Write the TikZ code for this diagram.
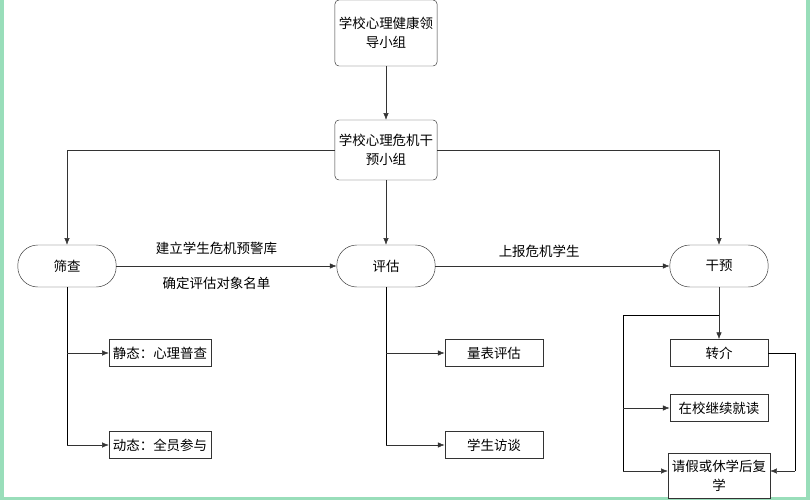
\documentclass[tikz,border=0pt]{standalone}
\usepackage{fontspec}
\setmainfont{Noto Sans CJK SC}
\usetikzlibrary{arrows.meta}
\tikzset{
  box/.style={draw=black!80,fill=white,minimum width=2.95cm,minimum height=0.82cm,align=center,font=\fontsize{11.5}{16}\selectfont},
  pill/.style={box,rounded corners=0.6cm,minimum height=1.26cm},
  head/.style={box,rounded corners=0.12cm,minimum height=1.8cm},
  lbl/.style={font=\fontsize{11.5}{14}\selectfont},
  arr/.style={-{Latex[length=2mm,width=1.6mm]},draw=black!80}
}
\begin{document}
\begin{tikzpicture}[x=0.03cm,y=-0.03cm]
  \useasboundingbox (0,0) rectangle (810,500);
  \fill[green!35!teal!40!white] (0,0) rectangle (810,500);
  \fill[white] (4,0) rectangle (806,497);

  \node[head,minimum height=1.98cm] (lead) at (386,33) {学校心理健康领\\导小组};
  \node[head] (crisis) at (386,150) {学校心理危机干\\预小组};

  \node[pill] (screen) at (67,266) {筛查};
  \node[pill] (assess) at (386,266) {评估};
  \node[pill] (interv) at (719,266) {干预};

  \node[box] (static) at (160,353) {静态：心理普查};
  \node[box] (dynamic) at (160,445) {动态：全员参与};
  \node[box] (scale) at (494,353) {量表评估};
  \node[box] (talk) at (494,445) {学生访谈};
  \node[box] (refer) at (719,353) {转介};
  \node[box] (stay) at (719,408) {在校继续就读};
  \node[box,minimum height=1.35cm] (leave) at (719,476) {请假或休学后复\\学};

  \coordinate (s1) at (67,353);
  \coordinate (s2) at (67,445);
  \coordinate (a1) at (386,353);
  \coordinate (a2) at (386,445);
  \coordinate (i0) at (719,315);
  \coordinate (i1) at (623,315);
  \coordinate (i2) at (623,408);
  \coordinate (i3) at (623,471);
  \coordinate (r1) at (795,353);
  \coordinate (r2) at (795,471);

  \draw[arr] (lead) -- (crisis);
  \draw[arr] (crisis) -- (assess);
  \draw[arr] (crisis.west) -| (screen);
  \draw[arr] (crisis.east) -| (interv);
  \draw[arr] (screen) -- node[lbl,above=6pt,xshift=-0.3cm] {建立学生危机预警库}
                         node[lbl,below=6pt,xshift=-0.3cm] {确定评估对象名单} (assess);
  \draw[arr] (assess) -- node[lbl,above=4pt,xshift=-0.4cm] {上报危机学生} (interv);

  \draw (screen) -- (s2);
  \draw[arr] (s1) -- (static);
  \draw[arr] (s2) -- (dynamic);
  \draw (assess) -- (a2);
  \draw[arr] (a1) -- (scale);
  \draw[arr] (a2) -- (talk);

  \draw[arr] (interv) -- (refer);
  \draw (i0) -- (i1) -- (i3);
  \draw[arr] (i2) -- (stay);
  \draw[arr] (i3) -- (leave.west |- i3);
  \draw (refer.east) -- (r1) -- (r2);
  \draw[arr] (r2) -- (leave.east |- r2);
\end{tikzpicture}
\end{document}
